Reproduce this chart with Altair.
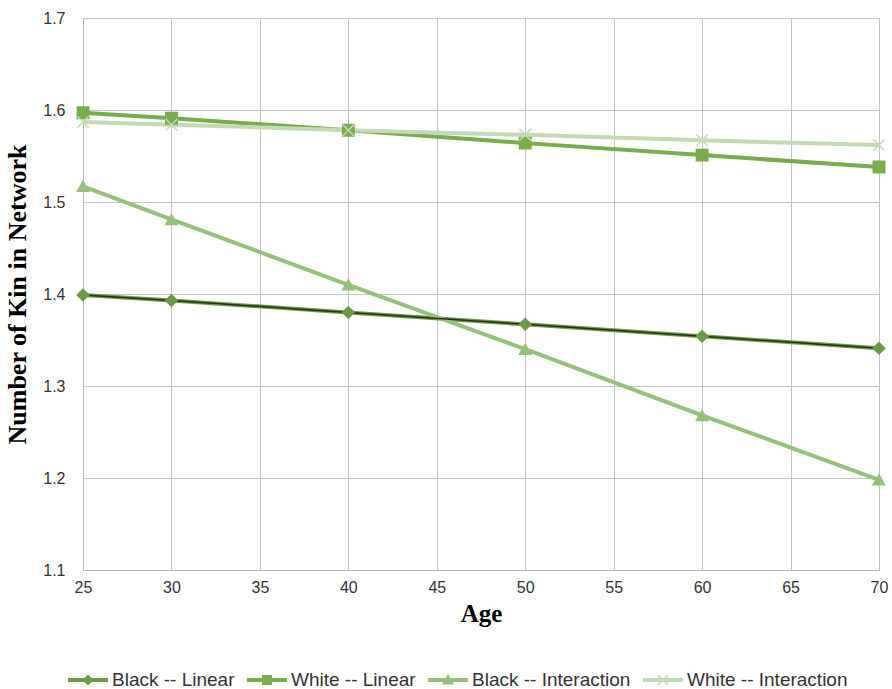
import altair as alt
import pandas as pd

ages = [25, 30, 40, 50, 60, 70]
series_names = ["Black -- Linear", "White -- Linear", "Black -- Interaction", "White -- Interaction"]
black_linear = [1.399, 1.393, 1.380, 1.367, 1.354, 1.341]
white_linear = [1.597, 1.591, 1.578, 1.564, 1.551, 1.538]
black_inter = [1.517, 1.481, 1.410, 1.340, 1.268, 1.198]
white_inter = [1.587, 1.584, 1.578, 1.573, 1.567, 1.562]
colors = ["#6b9a45", "#78ac4c", "#96c07c", "#c4dab5"]
marker_shapes = ["diamond", "square", "triangle-up", "M-1,-1L1,1M-1,1L1,-1"]

values = [black_linear, white_linear, black_inter, white_inter]
rows = []
for name, vals in zip(series_names, values):
    for a, v in zip(ages, vals):
        rows.append({"Age": a, "Value": v, "Series": name})
df = pd.DataFrame(rows)

x = alt.X("Age:Q", scale=alt.Scale(domain=[25, 70], nice=False, zero=False),
          axis=alt.Axis(values=list(range(25, 75, 5)), title="Age", format="d",
                        titleFont="Liberation Serif", titleFontSize=25, titleFontWeight="bold",
                        titleColor="#000000", titlePadding=6,
                        labelFont="Liberation Sans", labelFontSize=16, labelColor="#333333",
                        labelPadding=9, ticks=False, domainColor="#b5b5b5",
                        gridColor="#c3c3c3", labelFlush=False))
y = alt.Y("Value:Q", scale=alt.Scale(domain=[1.1, 1.7], nice=False, zero=False),
          axis=alt.Axis(values=[1.1, 1.2, 1.3, 1.4, 1.5, 1.6, 1.7], format=".1f",
                        title="Number of Kin in Network",
                        titleFont="Liberation Serif", titleFontSize=26, titleFontWeight="bold",
                        titleColor="#000000", titlePadding=12,
                        labelFont="Liberation Sans", labelFontSize=16, labelColor="#333333",
                        labelPadding=18, ticks=False, domainColor="#b5b5b5",
                        gridColor="#c3c3c3"))

col_nolegend = alt.Color("Series:N", scale=alt.Scale(domain=series_names, range=colors), legend=None)

base = alt.Chart(df)

lines = base.mark_line(strokeWidth=4).encode(
    x=x, y=y, color=col_nolegend, detail="Series:N", order="Age:Q"
)

inner = base.transform_filter(alt.datum.Series == "Black -- Linear").mark_line(
    strokeWidth=1.5, color="#26301c"
).encode(x=x, y=y, order="Age:Q")

points = base.mark_point(filled=True, strokeWidth=1.5, opacity=1).encode(
    x=x, y=y,
    color=col_nolegend,
    stroke=alt.Stroke("Series:N", scale=alt.Scale(domain=series_names, range=colors), legend=None),
    shape=alt.Shape("Series:N", scale=alt.Scale(domain=series_names, range=marker_shapes), legend=None),
    size=alt.value(130),
)

# legend-only layer: symbols are line + marker paths
t = 0.2
legend_paths = [
    f"M-2,-{t}L2,-{t}L2,{t}L-2,{t}Z M0,-0.55L0.55,0L0,0.55L-0.55,0Z",
    f"M-2,-{t}L2,-{t}L2,{t}L-2,{t}Z M-0.5,-0.5L0.5,-0.5L0.5,0.5L-0.5,0.5Z",
    f"M-2,-{t}L2,-{t}L2,{t}L-2,{t}Z M0,-0.6L0.6,0.45L-0.6,0.45Z",
    f"M-2,-{t}L2,-{t}L2,{t}L-2,{t}Z M-0.55,-0.45L-0.45,-0.55L0,-0.1L0.45,-0.55L0.55,-0.45L0.1,0L0.55,0.45L0.45,0.55L0,0.1L-0.45,0.55L-0.55,0.45L-0.1,0Z",
]
legend_layer = base.transform_filter("false").mark_point(filled=True, opacity=1).encode(
    x=x, y=y,
    color=alt.Color("Series:N", scale=alt.Scale(domain=series_names, range=colors),
                    sort=series_names,
                    legend=alt.Legend(title=None, orient="none", direction="horizontal",
                                      legendX=-5, legendY=652, columns=4,
                                      symbolSize=400, symbolStrokeWidth=0,
                                      labelFont="Liberation Sans", labelFontSize=19,
                                      labelColor="#333333", labelOffset=14, labelLimit=400,
                                      columnPadding=12, symbolOpacity=1)),
    shape=alt.Shape("Series:N", scale=alt.Scale(domain=series_names, range=legend_paths),
                    sort=series_names),
)

chart = alt.layer(lines, inner, points, legend_layer).resolve_scale(
    color="independent", shape="independent", stroke="independent"
).properties(
    width=796, height=552,
    autosize=alt.AutoSizeParams(type="none"),
    padding={"left": 83, "top": 18, "right": 13, "bottom": 119},
).configure_view(stroke="#c3c3c3", strokeWidth=1)

chart.save("out.html", embed_options={"renderer": "svg", "actions": False})
